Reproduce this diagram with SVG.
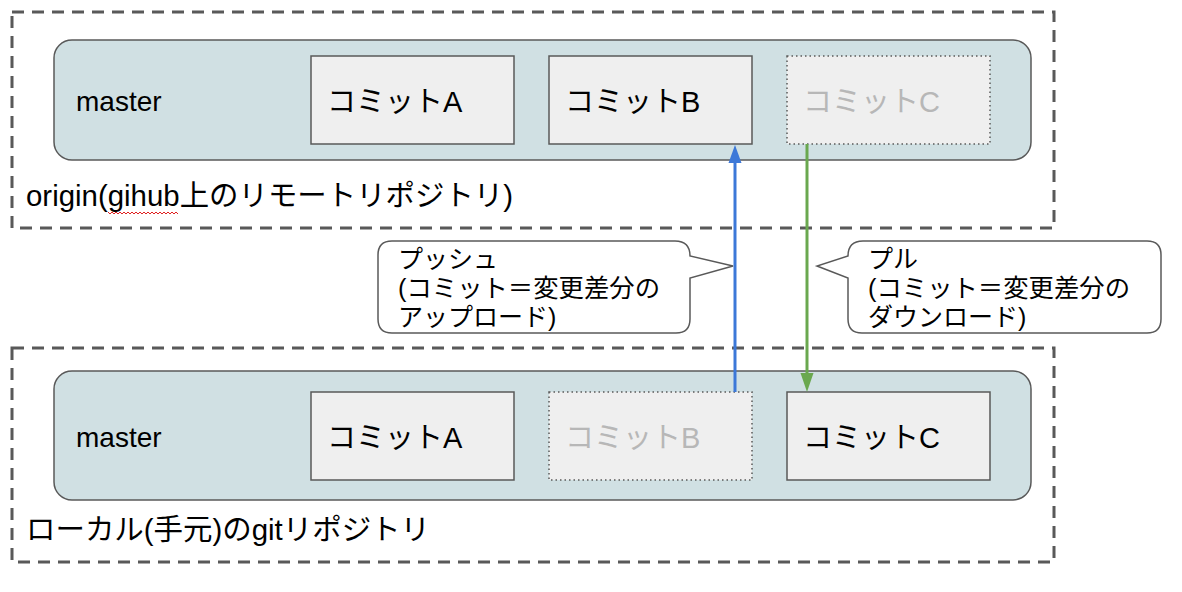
<svg xmlns="http://www.w3.org/2000/svg" width="1182" height="592" viewBox="0 0 1182 592">
<style>
text{font-family:"Liberation Sans","Noto Sans CJK JP",sans-serif;fill:#000}
.outer{fill:none;stroke:#595959;stroke-width:3;stroke-dasharray:12,8}
.branch{fill:#d0e0e3;stroke:#595959;stroke-width:1.5}
.commit{fill:#efefef;stroke:#595959;stroke-width:1.5}
.ghost{fill:#efefef;stroke:#595959;stroke-width:1.5;stroke-dasharray:1.5,3}
.lbl{font-size:28px}
.ctext{font-size:29px}
.gtext{font-size:29px;fill:#b7b7b7}
.repo{font-size:29px}
.call{fill:#fff;stroke:#595959;stroke-width:1.5}
.ct{font-size:25px}
</style>
<rect width="1182" height="592" fill="#fff"/>

<g id="remote">
<rect class="outer" x="12" y="12" width="1042" height="216"/>
<text class="repo" x="26" y="206" textLength="487" lengthAdjust="spacingAndGlyphs">origin(gihub上のリモートリポジトリ)</text>
<polyline fill="none" stroke="#e02020" stroke-width="1" points="108,212 110,214 112,212 114,214 116,212 118,214 120,212 122,214 124,212 126,214 128,212 130,214 132,212 134,214 136,212 138,214 140,212 142,214 144,212 146,214 148,212 150,214 152,212 154,214 156,212 158,214 160,212 162,214 164,212 166,214 168,212 170,214 172,212 174,214 176,212 178,214"/>
</g>
<g id="remote-master">
<rect class="branch" x="54" y="40" width="977" height="120" rx="18"/>
<text class="lbl" x="76" y="111">master</text>
</g>
<g id="remote-commitA">
<rect class="commit" x="311" y="56" width="203" height="88"/>
<text class="ctext" x="327" y="112">コミットA</text>
</g>
<g id="remote-commitB">
<rect class="commit" x="549" y="56" width="203" height="88"/>
<text class="ctext" x="565" y="112">コミットB</text>
</g>
<g id="remote-commitC">
<rect class="ghost" x="787" y="56" width="203" height="88"/>
<text class="gtext" x="803" y="112">コミットC</text>
</g>

<g id="local">
<rect class="outer" x="12" y="348" width="1042" height="214"/>
<text class="repo" x="26" y="540" textLength="404" lengthAdjust="spacingAndGlyphs">ローカル(手元)のgitリポジトリ</text>
</g>
<g id="local-master">
<rect class="branch" x="54" y="371" width="977" height="129" rx="18"/>
<text class="lbl" x="76" y="447">master</text>
</g>
<g id="local-commitA">
<rect class="commit" x="311" y="392" width="203" height="88"/>
<text class="ctext" x="327" y="448">コミットA</text>
</g>
<g id="local-commitB">
<rect class="ghost" x="549" y="392" width="203" height="88"/>
<text class="gtext" x="565" y="448">コミットB</text>
</g>
<g id="local-commitC">
<rect class="commit" x="787" y="392" width="203" height="88"/>
<text class="ctext" x="803" y="448">コミットC</text>
</g>

<g id="connectors">
<line x1="735" y1="392" x2="735" y2="162" stroke="#3c78d8" stroke-width="3"/>
<polygon points="735,145 728.5,163 741.5,163" fill="#3c78d8"/>
<line x1="807" y1="144" x2="807" y2="374" stroke="#6aa84f" stroke-width="3"/>
<polygon points="807,392 800.5,373 813.5,373" fill="#6aa84f"/>
</g>

<g id="push-callout">
<path class="call" d="M392,241 H675 Q690,241 690,256 L733,266 L690,278 V319 Q690,333 676,333 H392 Q378,333 378,319 V255 Q378,241 392,241 Z"/>
<text class="ct" x="398" y="268">プッシュ</text>
<text class="ct" x="398" y="297" textLength="262" lengthAdjust="spacingAndGlyphs">(コミット＝変更差分の</text>
<text class="ct" x="398" y="326">アップロード)</text>
</g>
<g id="pull-callout">
<path class="call" d="M863,241 H1147 Q1161,241 1161,255 V319 Q1161,333 1147,333 H862 Q848,333 848,319 V278 L817,266 L848,256 Q848,241 863,241 Z"/>
<text class="ct" x="868" y="268">プル</text>
<text class="ct" x="868" y="297" textLength="262" lengthAdjust="spacingAndGlyphs">(コミット＝変更差分の</text>
<text class="ct" x="868" y="326">ダウンロード)</text>
</g>
</svg>
